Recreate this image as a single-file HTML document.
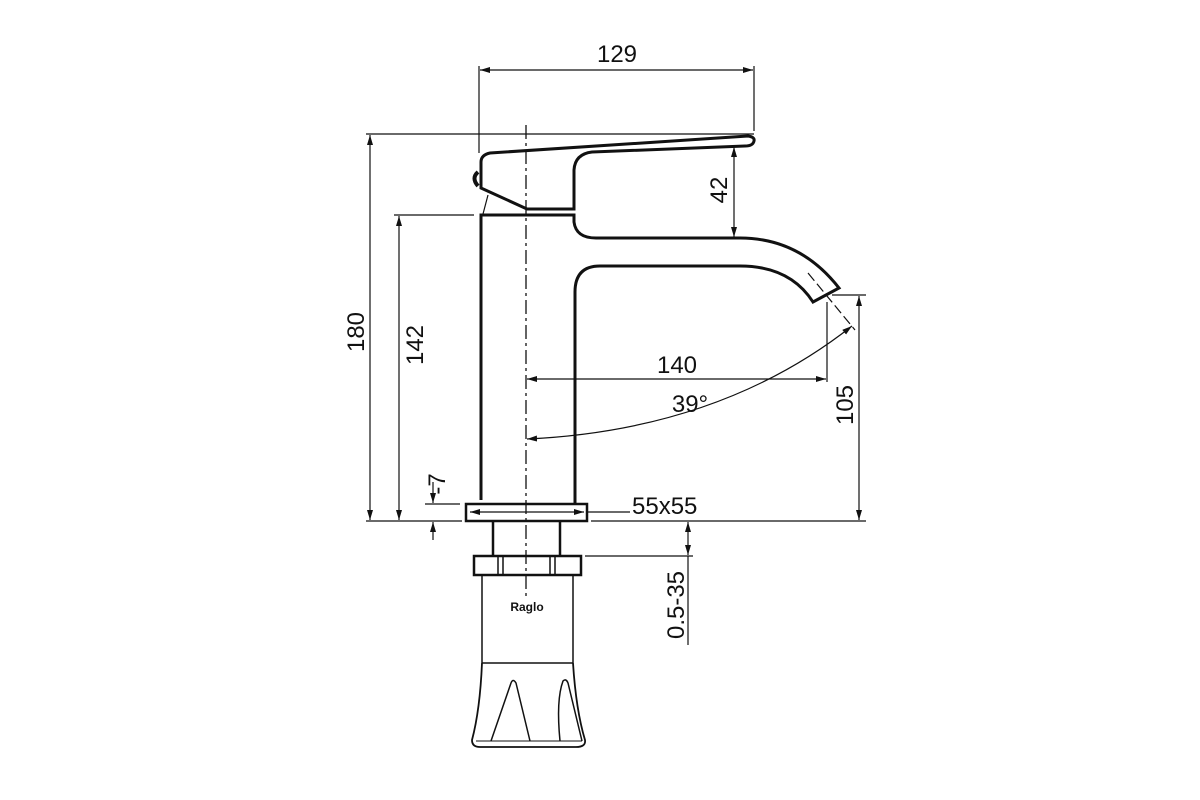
<!DOCTYPE html>
<html><head><style>html,body{margin:0;padding:0;background:#fff}svg{display:block}text{font-family:"Liberation Sans",sans-serif;fill:#111}</style></head>
<body>
<svg width="1200" height="800" viewBox="0 0 1200 800" xmlns="http://www.w3.org/2000/svg">
<defs>
<marker id="a" viewBox="0 0 10 6" refX="10" refY="3" markerWidth="10" markerHeight="6" orient="auto-start-reverse" markerUnits="userSpaceOnUse"><path d="M0,0 L10,3 L0,6 Z" fill="#111"/></marker>
</defs>
<g stroke="#111" fill="none">
<!-- centerline -->
<line x1="526" y1="125" x2="526" y2="598" stroke-width="1.3" stroke-dasharray="14,4,3,4"/>
<!-- lever -->
<path d="M481,188 L481,162 Q481,155 490,153 L748,136 Q755,137 754,141 Q753,146 745,146 L592,152 Q575,154 574,170 L574,209 L527,209 Z" stroke-width="3"/>
<path d="M478,172 Q471,178 478,186" stroke-width="4"/>
<path d="M488,195 L483,214" stroke-width="1.2"/>
<!-- body and spout -->
<path d="M481,500 L481,215 L574,215 L574,222 Q576,238 596,238 L740,238 Q800,238 839,288 L813,302 Q790,266 740,266 L600,266 Q575,266 575,292 L575,503" stroke-width="3"/>
<line x1="808" y1="273" x2="855" y2="330" stroke-width="1.2" stroke-dasharray="10,4"/>
<!-- base plate -->
<rect x="466" y="504" width="121" height="17" stroke-width="2.5"/>
<line x1="470" y1="512" x2="584" y2="512" stroke-width="1.2" marker-start="url(#a)" marker-end="url(#a)"/>
<line x1="587" y1="512" x2="630" y2="512" stroke-width="1.2"/>
<!-- neck -->
<line x1="493" y1="521" x2="493" y2="556" stroke-width="2.5"/>
<line x1="560" y1="521" x2="560" y2="556" stroke-width="2.5"/>
<rect x="474" y="556" width="107" height="19" stroke-width="2.5"/>
<line x1="498" y1="556" x2="498" y2="575" stroke-width="1.5"/>
<line x1="503" y1="556" x2="503" y2="575" stroke-width="1.5"/>
<line x1="550" y1="556" x2="550" y2="575" stroke-width="1.5"/>
<line x1="555" y1="556" x2="555" y2="575" stroke-width="1.5"/>
<!-- bottom body -->
<line x1="482" y1="575" x2="482" y2="663" stroke-width="1.5"/>
<line x1="573" y1="575" x2="573" y2="663" stroke-width="1.5"/>
<line x1="482" y1="663" x2="573" y2="663" stroke-width="1.5"/>
<path d="M482,663 Q480,710 472,740 Q472,747 480,747 L576,747 Q586,747 585,740 Q576,710 573,663" stroke-width="1.8"/>
<path d="M491,741 L511,683 Q513,678 516,683 L530,741" stroke-width="1.5"/>
<path d="M560,741 Q556,700 563,681 Q566,678 568,683 L582,741" stroke-width="1.5"/>
<line x1="476" y1="741" x2="582" y2="741" stroke-width="1"/>
<!-- dim 129 -->
<line x1="479" y1="66" x2="479" y2="153" stroke-width="1.2"/>
<line x1="754" y1="66" x2="754" y2="131" stroke-width="1.2"/>
<line x1="480" y1="70" x2="753" y2="70" stroke-width="1.2" marker-start="url(#a)" marker-end="url(#a)"/>
<!-- dim 180 -->
<line x1="366" y1="134" x2="754" y2="134" stroke-width="1.2"/>
<line x1="366" y1="521" x2="462" y2="521" stroke-width="1.2"/>
<line x1="370" y1="135" x2="370" y2="520" stroke-width="1.2" marker-start="url(#a)" marker-end="url(#a)"/>
<!-- dim 142 -->
<line x1="394" y1="215" x2="474" y2="215" stroke-width="1.2"/>
<line x1="399" y1="216" x2="399" y2="520" stroke-width="1.2" marker-start="url(#a)" marker-end="url(#a)"/>
<!-- dim 7 -->
<line x1="425" y1="504" x2="460" y2="504" stroke-width="1.2"/>
<line x1="433" y1="482" x2="433" y2="503" stroke-width="1.2" marker-end="url(#a)"/>
<line x1="433" y1="540" x2="433" y2="522" stroke-width="1.2" marker-end="url(#a)"/>
<!-- dim 42 -->
<line x1="734" y1="147" x2="734" y2="237" stroke-width="1.2" marker-start="url(#a)" marker-end="url(#a)"/>
<!-- dim 140 -->
<line x1="827" y1="302" x2="827" y2="382" stroke-width="1.2"/>
<line x1="527" y1="379" x2="826" y2="379" stroke-width="1.2" marker-start="url(#a)" marker-end="url(#a)"/>
<!-- 39 arc -->
<path d="M527,439 Q720,430 852,326" stroke-width="1.2" marker-start="url(#a)" marker-end="url(#a)"/>
<!-- dim 105 -->
<line x1="832" y1="295" x2="866" y2="295" stroke-width="1.2"/>
<line x1="591" y1="521" x2="866" y2="521" stroke-width="1.2"/>
<line x1="859" y1="296" x2="859" y2="520" stroke-width="1.2" marker-start="url(#a)" marker-end="url(#a)"/>
<!-- dim 0.5-35 -->
<line x1="585" y1="556" x2="693" y2="556" stroke-width="1.2"/>
<line x1="688" y1="522" x2="688" y2="555" stroke-width="1.2" marker-start="url(#a)" marker-end="url(#a)"/>
<line x1="688" y1="556" x2="688" y2="645" stroke-width="1.2"/>
</g>
<g font-size="24">
<text x="617" y="62" text-anchor="middle">129</text>
<text x="677" y="373" text-anchor="middle">140</text>
<text x="690" y="412" text-anchor="middle">39°</text>
<text x="632" y="514">55x55</text>
<text transform="translate(364,332) rotate(-90)" text-anchor="middle">180</text>
<text transform="translate(423,345) rotate(-90)" text-anchor="middle">142</text>
<text transform="translate(727,190) rotate(-90)" text-anchor="middle">42</text>
<text transform="translate(853,405) rotate(-90)" text-anchor="middle">105</text>
<text transform="translate(445,484) rotate(-90)" text-anchor="middle">-7</text>
<text transform="translate(684,605) rotate(-90)" text-anchor="middle">0.5-35</text>
</g>
<text x="527" y="611" text-anchor="middle" font-size="12" font-weight="bold">Raglo</text>
</svg>
</body></html>
